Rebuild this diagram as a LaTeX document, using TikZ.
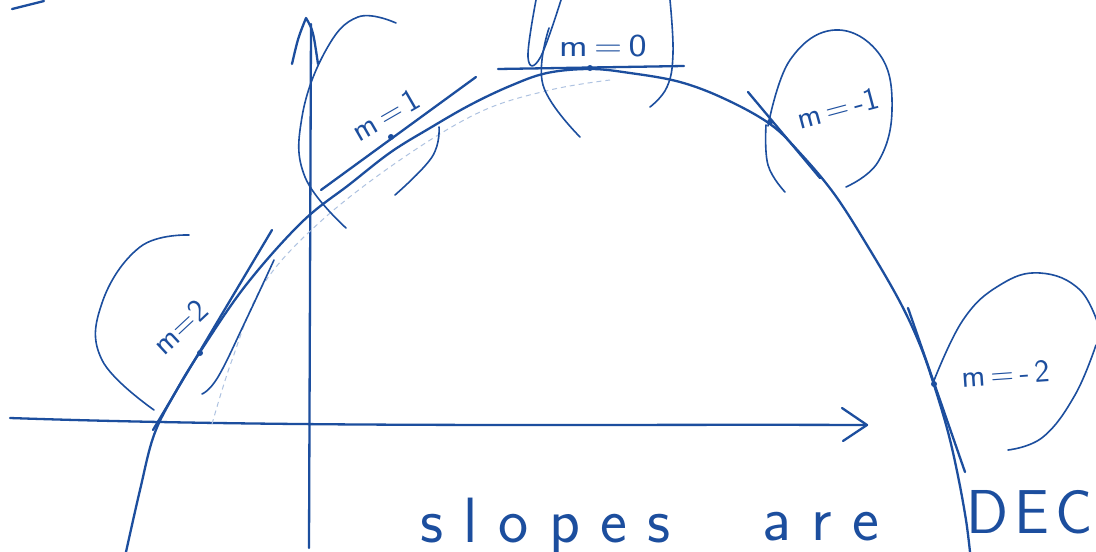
\documentclass[tikz,border=0pt]{standalone}
\usepackage{fontspec}
\definecolor{pen}{RGB}{28,78,158}
\definecolor{faint}{RGB}{175,195,225}
\newcommand\lsp{\hskip0.32em}
\begin{document}
\begin{tikzpicture}[x=1pt,y=-1pt,
  ink/.style={draw=pen,line width=2.3pt,line cap=round,line join=round},
  loop ink/.style={draw=pen,line width=1.6pt,line cap=round,line join=round},
  faint ink/.style={draw=faint,line width=1pt,dash pattern=on 5pt off 4pt},
  lbl/.style={text=pen,font=\sffamily\fontsize{32}{32}\selectfont,inner sep=0pt},
  big/.style={text=pen,font=\sffamily\fontsize{64}{64}\selectfont,inner sep=0pt,anchor=base west},
  dot/.style={fill=pen,circle,inner sep=0pt,minimum size=6pt}]
\useasboundingbox (0,0) rectangle (1096,552);
\fill[white] (0,0) rectangle (1096,552);
\clip (0,0) rectangle (1096,552);

% stray stroke top left
\draw[ink] (12,9) -- (44,1);

% axes
\draw[ink] (10,418) .. controls (300,428) and (600,424) .. (865,425);
\draw[ink] (842,408) -- (867,425) -- (843,441);
\draw[ink] (309,548) -- (311,24);
\draw[ink] (292,64) .. controls (298,38) .. (306,18) .. controls (313,30) .. (318,64);

% faint guide curve
\draw[faint ink] plot[smooth,tension=0.6] coordinates {(212,424) (232,360) (263,285) (320,222) (400,160) (480,112) (550,90) (610,80)};

% main curve
\draw[ink] plot[smooth,tension=0.6] coordinates {(126,552) (140,490) (154,435) (175,393) (200,352) (246,285) (302,222) (350,184) (391,152) (430,128) (470,105) (510,86) (547,73) (590,69) (630,73) (680,82) (725,99) (770,124) (800,153) (835,195) (870,250) (900,302) (920,345) (934,385) (948,432) (958,476) (966,520) (970,552)};

% tangent lines
\draw[ink] (153,430) -- (272,230);
\draw[ink] (321,190) -- (476,77);
\draw[ink] (498,69) -- (684,66);
\draw[ink] (748,92) -- (820,178);
\draw[ink] (908,308) -- (965,472);

% touching points
\node[dot] (p2) at (200,353) {};
\node[dot] (p1) at (391,137) {};
\node[dot] (p0) at (590,68) {};
\node[dot] (pm1) at (770,122) {};
\node[dot] (pm2) at (934,384) {};

% loops around labels
\draw[loop ink] plot[smooth,tension=0.7] coordinates {(189,235) (140,247) (102,303) (102,360) (154,410)};
\draw[loop ink] plot[smooth,tension=0.7] coordinates {(274,260) (246,320) (218,377) (202,394)};
\draw[loop ink] plot[smooth,tension=0.7] coordinates {(396,23) (358,17) (326,50) (302,117) (305,177) (346,228)};
\draw[loop ink] plot[smooth,tension=0.7] coordinates {(439,127) (432,157) (395,195)};
\draw[loop ink] plot[smooth,tension=0.7] coordinates {(536,0) (528,57) (540,58) (561,0)};
\draw[loop ink] plot[smooth,tension=0.7] coordinates {(549,28) (543,85) (580,137)};
\draw[loop ink] plot[smooth,tension=0.7] coordinates {(670,0) (673,53) (667,87) (650,107)};
\draw[loop ink] plot[smooth,tension=0.7] coordinates {(768,126) (790,60) (835,30) (880,55) (892,110) (878,162) (846,187)};
\draw[loop ink] plot[smooth,tension=0.7] coordinates {(766,125) (768,165) (785,192)};
\draw[loop ink] plot[smooth,tension=0.7] coordinates {(933,383) (963,320) (1000,285) (1040,273) (1080,290) (1100,330)};
\draw[loop ink] plot[smooth,tension=0.7] coordinates {(1096,345) (1075,395) (1043,437) (1008,450)};

% labels
\node[lbl,rotate=43] (l2) at (180,327) {m=2};
\node[lbl,rotate=30] (l1) at (386,115) {m\,=\,1};
\node[lbl,xscale=1.2] (l0) at (603,46) {m\,=\,0};
\node[lbl,rotate=15] (lm1) at (838,108) {m\,=\,-1};
\node[lbl,rotate=4] (lm2) at (1006,374) {m\,=\,-\,2};

% caption
\node[big] (w1) at (420,542) {s\lsp l\lsp o\lsp p\lsp e\lsp s};
\node[big] (w2) at (762,540) {a\lsp r\lsp e};
\node[big,font=\sffamily\fontsize{62}{62}\selectfont] (w3) at (966,533) {D\hskip0.1em E\hskip0.1em C};
\end{tikzpicture}
\end{document}
